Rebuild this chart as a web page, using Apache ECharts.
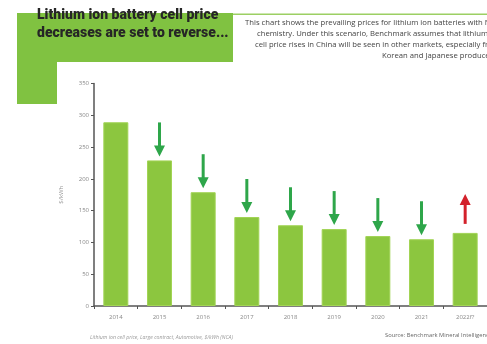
<!DOCTYPE html>
<html>
<head>
<meta charset="utf-8">
<script src="https://cdn.jsdelivr.net/npm/echarts@6/dist/echarts.min.js"></script>
<style>
  html, body { margin: 0; padding: 0; background: #fff; }
  #chart { width: 487px; height: 344px; }
</style>
</head>
<body>
<div id="chart"></div>
<script>
// values
const years  = ['2014', '2015', '2016', '2017', '2018', '2019', '2020', '2021', '2022f?'];
const prices = [289, 229, 179, 140, 127, 121, 110, 105, 115];
// arrow above each bar: -1 down (green), 1 up (red), 0 none
const arrows = [0, -1, -1, -1, -1, -1, -1, -1, 1];
const yTicks = { min: 0, max: 350, step: 50 };

const titleLines = ['Lithium ion battery cell price', 'decreases are set to reverse...'];
const blurbLines = [
    'This chart shows the prevailing prices for lithium ion batteries with NCA',
    'chemistry. Under this scenario, Benchmark assumes that lithium ion',
    'cell price rises in China will be seen in other markets, especially from',
    'Korean and Japanese producers.'
];
const blurbX = [245, 257, 255, 382];   // where each line starts in the picture
const footnote = 'Lithium ion cell price, Large contract, Automotive, $/kWh (NCA)';
const source   = 'Source: Benchmark Mineral Intelligence';

const GREEN = '#8cc63f';
const chart = echarts.init(document.getElementById('chart'));

// arrow drawn relative to the bar top, through the value axis
function renderArrow(params, api) {
    const dir = api.value(2);
    if (!dir) return null;
    const top = api.coord([api.value(0), api.value(1)]);
    const x = top[0];
    const color = dir < 0 ? '#2ea64a' : '#d3212b';
    let tipY, tailY;
    if (dir < 0) { tipY = top[1] - 4; tailY = tipY - 34; }
    else { tailY = top[1] - 9; tipY = tailY - 30; }
    const headLen = 11 * (dir < 0 ? 1 : -1);
    return {
        type: 'group',
        children: [
            { type: 'line', shape: { x1: x, y1: tailY, x2: x, y2: tipY - headLen * 0.6 },
              style: { stroke: color, lineWidth: 3 } },
            { type: 'polygon', shape: { points: [[x - 5.5, tipY - headLen], [x + 5.5, tipY - headLen], [x, tipY]] },
              style: { fill: color } }
        ]
    };
}

chart.setOption({
    animation: false,
    grid: { left: 94, top: 83.5, width: 398, height: 222.5 },
    xAxis: {
        type: 'category',
        data: years,
        axisLine: { lineStyle: { color: '#555', width: 1.5 } },
        axisTick: { show: true, length: 3, lineStyle: { color: '#555' } },
        axisLabel: { color: '#888', fontSize: 6, margin: 8, fontFamily: 'Open Sans' }
    },
    yAxis: {
        type: 'value',
        min: yTicks.min, max: yTicks.max, interval: yTicks.step,
        name: '$/kWh', nameLocation: 'middle', nameRotate: 90, nameGap: 30,
        nameTextStyle: { color: '#999', fontSize: 6, fontFamily: 'Open Sans' },
        axisLine: { show: true, lineStyle: { color: '#555', width: 1.5 } },
        axisTick: { show: true, length: 3, lineStyle: { color: '#555' } },
        axisLabel: { color: '#888', fontSize: 6, margin: 5, fontFamily: 'Open Sans' },
        splitLine: { show: false }
    },
    series: [
        {
            type: 'bar',
            data: prices,
            barWidth: 25,
            itemStyle: { color: GREEN, borderColor: '#a2d455', borderWidth: 1 }
        },
        {
            type: 'custom',
            renderItem: renderArrow,
            data: years.map((y, i) => [i, prices[i], arrows[i]]),
            z: 5
        }
    ],
    graphic: [
        // green L-shaped header block
        { type: 'rect', shape: { x: 17, y: 13, width: 216, height: 49 }, style: { fill: '#80c241' } },
        { type: 'rect', shape: { x: 17, y: 62, width: 40, height: 42 }, style: { fill: '#80c241' } },
        { type: 'rect', shape: { x: 233, y: 13.5, width: 260, height: 1.5 }, style: { fill: '#9ccf63' } },
        { type: 'text', left: 37, top: 6,
          style: { text: titleLines.join('\n'), fill: '#262626', font: '900 14px Roboto', lineHeight: 18.5 } }
    ].concat(blurbLines.map((t, i) => ({
        type: 'text', x: blurbX[i], y: 23 + i * 11,
        style: { text: t, fill: '#444', font: '7.7px "Open Sans"', verticalAlign: 'middle' }
    }))).concat([
        { type: 'text', left: 90, top: 335,
          style: { text: footnote, fill: '#999', font: 'italic 5.2px "Open Sans"' } },
        { type: 'text', left: 385, top: 332,
          style: { text: source, fill: '#666', font: '5.8px "Open Sans"' } }
    ])
});
</script>
</body>
</html>
